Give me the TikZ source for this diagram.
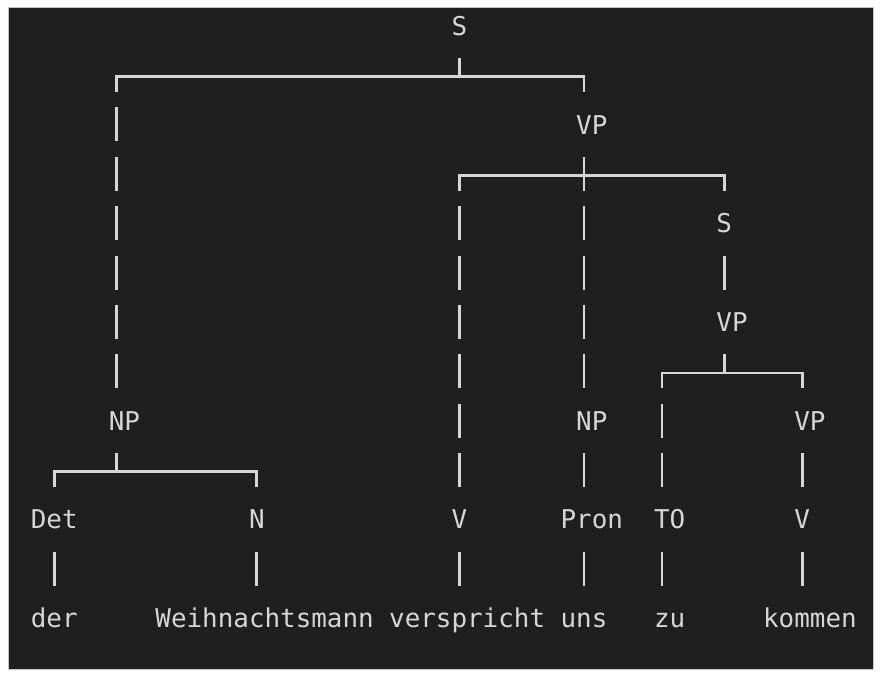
\documentclass[tikz,border=0pt]{standalone}
\usepackage{fontspec}
\setmonofont{DejaVu Sans Mono}
\usepackage{tikz}
\usetikzlibrary{calc}
\definecolor{term}{HTML}{1F1F1F}
\definecolor{ink}{HTML}{D6D6D6}
\newcommand{\lpad}{\phantom{0}}

\begin{document}
\begin{tikzpicture}[x=15.58pt,y=-49.35pt]
\fill[white] (-2.484,-0.557) rectangle (54.448,13.181);
\useasboundingbox (-2.484,-0.557) rectangle (54.448,13.181);
\draw[gray!45,line width=0.8pt,fill=term] (-1.97,-0.405) rectangle (53.55,13.01);

\tikzstyle{tag}=[text=ink,font=\ttfamily\fontsize{25.9}{30}\selectfont,inner sep=0pt,text height=20pt,text depth=4pt,minimum height=49.35pt]
\tikzstyle{bar}=[ink,line width=2.8pt,line cap=rect]
\tikzstyle{stem}=[ink,line width=2.8pt,dash pattern=on 34pt off 15.35pt,dash phase=43.375pt]
\tikzstyle{drop}=[ink,line width=2.8pt,dash pattern=on 34pt off 15.35pt,dash phase=18.7pt]

% phrase labels
\draw (27,0) node[tag] (s0) {S};
\draw (35,2) node[tag] (vp1) {\lpad VP};
\draw (44,4) node[tag] (s1) {S};
\draw (44,6) node[tag] (vp2) {\lpad VP};
\draw (5,8) node[tag] (npl) {\lpad NP};
\draw (35,8) node[tag] (npr) {\lpad NP};
\draw (49,8) node[tag] (vp3) {\lpad VP};

% word classes
\draw (1,10) node[tag] (det) {Det};
\draw (14,10) node[tag] (n) {N};
\draw (27,10) node[tag] (v1) {V};
\draw (35,10) node[tag] (pron) {\lpad Pron};
\draw (40,10) node[tag] (to) {\lpad TO};
\draw (49,10) node[tag] (v2) {V};

% words
\draw (1,12) node[tag] (w1) {der};
\draw (14,12) node[tag] (w2) {\lpad Weihnachtsmann};
\draw (27,12) node[tag] (w3) {\lpad verspricht};
\draw (35,12) node[tag] (w4) {uns};
\draw (40,12) node[tag] (w5) {\lpad zu};
\draw (49,12) node[tag] (w6) {\lpad kommen};

\coordinate (b1) at (27,1);
\coordinate (b2) at (35,3);
\coordinate (b3) at (44,7);
\coordinate (b4) at (5,9);

\draw[bar] (b1 -| npl) -- (b1 -| vp1);
\draw[stem] (s0) -- (b1);
\draw[drop] (b1 -| npl) -- (npl);
\draw[drop] (b1 -| vp1) -- (vp1);

\draw[bar] (b2 -| v1) -- (b2 -| s1);
\draw[stem] (vp1) -- (b2);
\draw[drop] (b2 -| v1) -- (v1);
\draw[drop] (b2 -| npr) -- (npr);
\draw[drop] (b2 -| s1) -- (s1);

\draw[stem] (s1) -- (vp2);

\draw[bar] (b3 -| to) -- (b3 -| vp3);
\draw[stem] (vp2) -- (b3);
\draw[drop] (b3 -| to) -- (to);
\draw[drop] (b3 -| vp3) -- (vp3);

\draw[bar] (b4 -| det) -- (b4 -| n);
\draw[stem] (npl) -- (b4);
\draw[drop] (b4 -| det) -- (det);
\draw[drop] (b4 -| n) -- (n);

\draw[stem] (npr) -- (pron);
\draw[stem] (vp3) -- (v2);

\draw[stem] (det) -- (w1);
\draw[stem] (n) -- (w2);
\draw[stem] (v1) -- (w3);
\draw[stem] (pron) -- (w4);
\draw[stem] (to) -- (w5);
\draw[stem] (v2) -- (w6);
\end{tikzpicture}
\end{document}
